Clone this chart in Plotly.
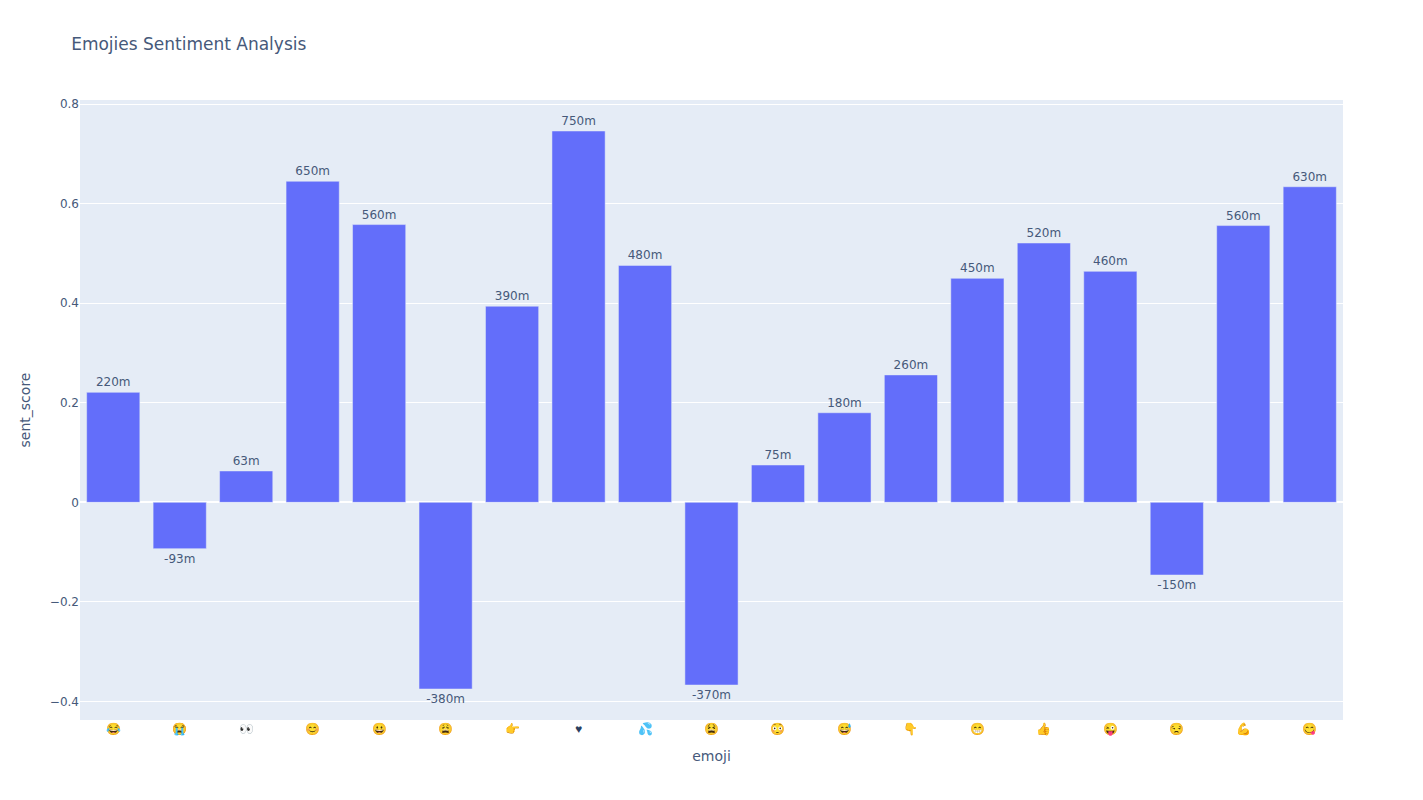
import plotly.graph_objects as go

emoji = ["😂", "😭", "👀", "😊", "😀", "😩", "👉", "♥\ufe0e", "💦", "😫", "😳", "😅", "👇", "😁", "👍", "😜", "😒", "💪", "😋"]
sent_score = [0.221, -0.093, 0.063, 0.645, 0.558, -0.375, 0.394, 0.746, 0.476, -0.367, 0.075, 0.18, 0.256, 0.45, 0.521, 0.464, -0.146, 0.556, 0.634]

text_color = "#46597a"

fig = go.Figure(go.Bar(x=emoji, y=sent_score, text=sent_score, texttemplate="%{text:.2s}", textposition="outside"))
fig.update_layout(
    template="plotly",
    font=dict(family="DejaVu Sans", color=text_color),
    width=1423,
    height=800,
    title=dict(text="Emojies Sentiment Analysis", font=dict(color=text_color)),
    xaxis=dict(title="emoji", tickfont=dict(family="Open Sans", color="#2a3f5f")),
    yaxis=dict(title="sent_score"),
)
fig.write_html("out.html", config={"displayModeBar": False}, post_script="document.body.style.margin='0';")
